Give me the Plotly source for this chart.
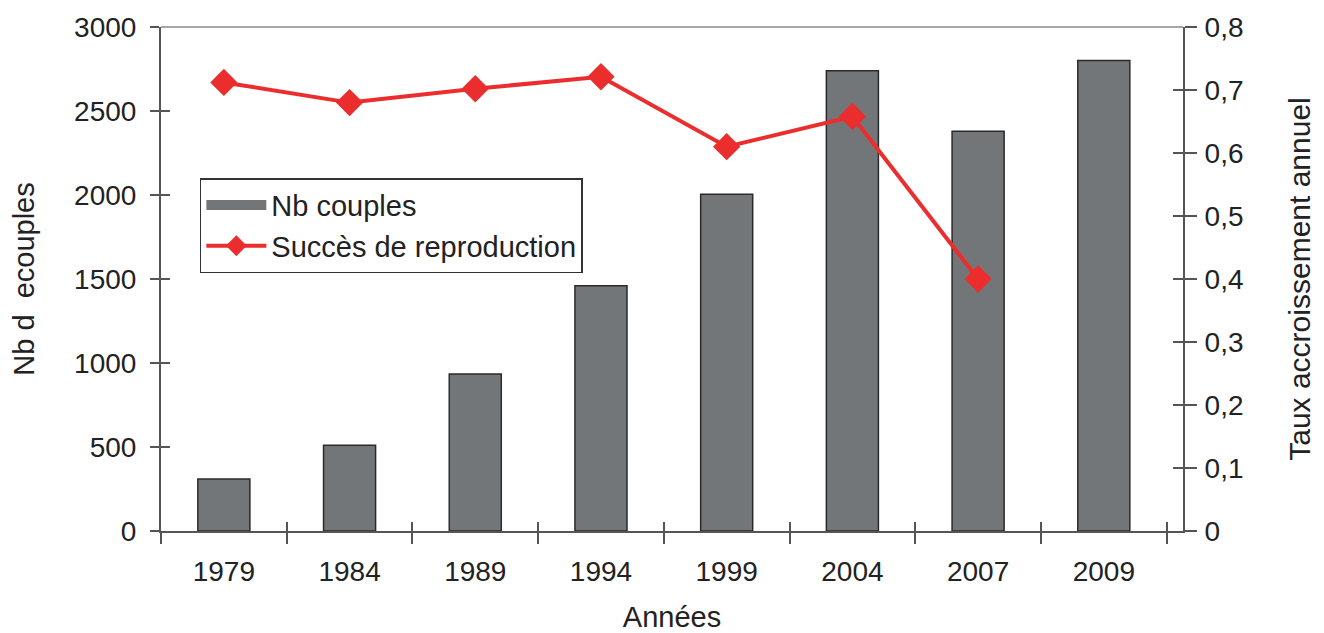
import plotly.graph_objects as go

years = ["1979", "1984", "1989", "1994", "1999", "2004", "2007", "2009"]
nb_couples = [310, 510, 935, 1460, 2005, 2740, 2380, 2800]
succes_years = ["1979", "1984", "1989", "1994", "1999", "2004", "2007"]
succes = [0.712, 0.680, 0.702, 0.721, 0.610, 0.658, 0.400]

left_ticks = [0, 500, 1000, 1500, 2000, 2500, 3000]
right_ticks = [0, 0.1, 0.2, 0.3, 0.4, 0.5, 0.6, 0.7, 0.8]

FONT = "Liberation Sans, Arial, sans-serif"
AX = "#555555"
TXT = "#222222"
BAR = "#737678"
RED = "#ec2d2d"
XRANGE = [-0.5, 7.63]

fig = go.Figure()
fig.add_trace(go.Bar(
    x=years, y=nb_couples, name="Nb couples", showlegend=False,
    marker=dict(color=BAR, line=dict(color="#2a2a2a", width=1.5)),
    xaxis="x", yaxis="y",
))
# legend entry for the bars (wide grey swatch); also creates the tick-overlay subplot x2/y3
fig.add_trace(go.Scatter(
    x=years, y=[None] * len(years), name="Nb couples", mode="lines",
    line=dict(color=BAR, width=14), xaxis="x2", yaxis="y3", hoverinfo="skip",
))
fig.add_trace(go.Scatter(
    x=succes_years, y=succes, name="Succès de reproduction",
    mode="lines+markers",
    line=dict(color=RED, width=4),
    marker=dict(symbol="diamond", size=21, color=RED),
    xaxis="x", yaxis="y2",
))
fig.add_trace(go.Scatter(
    x=years, y=[None] * len(years), showlegend=False, mode="lines",
    xaxis="x2", yaxis="y4", hoverinfo="skip",
))

tickfont = dict(family=FONT, size=28, color=TXT)
titlefont = dict(family=FONT, size=29, color=TXT)

fig.update_layout(
    width=1308, height=625,
    margin=dict(l=153, r=133, t=19, b=102),
    paper_bgcolor="white", plot_bgcolor="rgba(0,0,0,0)",
    separators=", ",
    bargap=0.586,
    showlegend=True,
    legend=dict(
        x=0.038, y=0.70, xanchor="left", yanchor="top",
        bgcolor="white", bordercolor="#333333", borderwidth=1.5,
        font=dict(family=FONT, size=29, color=TXT),
        itemwidth=60, tracegroupgap=2,
    ),
    xaxis=dict(
        type="category", tickson="boundaries", ticks="outside", ticklen=11,
        tickwidth=2, tickcolor=AX, showline=True, linecolor=AX, linewidth=2,
        showgrid=False, tickfont=tickfont, automargin=False, ticklabelstandoff=14,
        title=dict(text="Années", font=titlefont, standoff=22),
        range=XRANGE, anchor="y", domain=[0, 1],
    ),
    xaxis2=dict(
        type="category", side="bottom", anchor="y3", domain=[0, 1],
        tickson="boundaries", ticks="inside", ticklen=9, tickwidth=2, tickcolor=AX,
        showticklabels=False, showgrid=False, showline=False, automargin=False,
        range=XRANGE, categoryarray=years, categoryorder="array",
    ),
    yaxis=dict(
        range=[0, 3000], tickvals=left_ticks, ticks="outside", ticklen=9,
        tickwidth=2, tickcolor=AX, showline=True, linecolor=AX, linewidth=2,
        showgrid=False, zeroline=False, tickfont=tickfont, automargin=False,
        ticklabelstandoff=8, domain=[0, 1],
        title=dict(text="Nb d\u00a0\u00a0ecouples", font=titlefont, standoff=40),
    ),
    yaxis2=dict(
        range=[0, 0.8], tickvals=right_ticks, overlaying="y", side="right", anchor="x",
        ticks="outside", ticklen=12, tickwidth=2, tickcolor=AX,
        showline=True, linecolor=AX, linewidth=2, showgrid=False, zeroline=False,
        tickfont=tickfont, automargin=False, ticklabelstandoff=2,
        title=dict(text="Taux accroissement annuel", font=dict(family=FONT, size=30, color=TXT), standoff=50),
    ),
    yaxis3=dict(
        range=[0, 3000], tickvals=left_ticks, side="left", anchor="x2", domain=[0, 1],
        ticks="inside", ticklen=9, tickwidth=2, tickcolor=AX, automargin=False,
        showticklabels=False, showgrid=False, showline=False, zeroline=False,
    ),
    yaxis4=dict(
        range=[0, 0.8], tickvals=right_ticks, overlaying="y3", side="right", anchor="x2",
        ticks="inside", ticklen=10, tickwidth=2, tickcolor=AX, automargin=False,
        showticklabels=False, showgrid=False, showline=False, zeroline=False,
    ),
)

# top frame line
fig.add_shape(type="line", xref="paper", yref="paper", x0=0, x1=1, y0=1, y1=1,
              line=dict(color="#888888", width=1.5))

fig.write_html("out.html")
